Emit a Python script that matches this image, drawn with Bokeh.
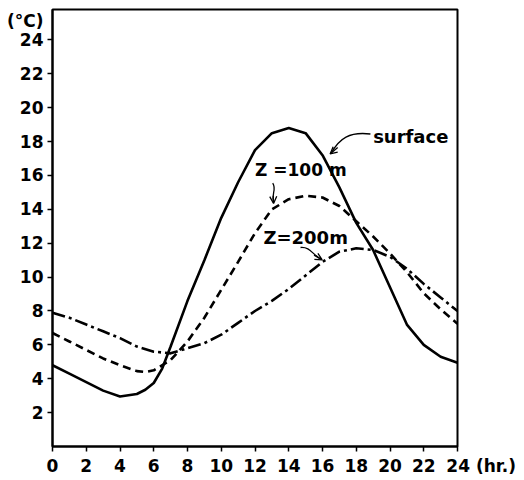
from bokeh.plotting import figure
from bokeh.models import Range1d, FixedTicker, Label, Arrow, OpenHead
from bokeh.embed import file_html
from bokeh.resources import INLINE

# hours of day
hours_surface = [0, 1, 2, 3, 4, 5, 5.5, 6, 6.5, 7, 8, 9, 10, 11, 12, 13, 14,
                 15, 16, 17, 18, 19, 20, 21, 22, 23, 24]
temp_surface = [4.8, 4.3, 3.8, 3.3, 2.95, 3.1, 3.35, 3.75, 4.6, 5.9, 8.6, 11.0,
                13.5, 15.6, 17.5, 18.5, 18.8, 18.5, 17.2, 15.3, 13.2, 11.6,
                9.4, 7.2, 6.0, 5.3, 4.95]

hours_100 = [0, 1, 2, 3, 4, 5, 5.5, 6, 7, 8, 9, 10, 11, 12, 13, 14, 15, 16,
             17, 18, 19, 20, 21, 22, 23, 24]
temp_100 = [6.7, 6.2, 5.7, 5.2, 4.8, 4.45, 4.4, 4.5, 5.1, 6.2, 7.6, 9.25,
            10.9, 12.6, 14.0, 14.6, 14.8, 14.7, 14.2, 13.3, 12.4, 11.4, 10.3,
            9.05, 8.1, 7.25]

hours_200 = [0, 1, 2, 3, 4, 5, 6, 7, 8, 9, 10, 11, 12, 13, 14, 15, 16, 17,
             18, 19, 20, 21, 22, 23, 24]
temp_200 = [7.9, 7.6, 7.2, 6.8, 6.4, 5.9, 5.6, 5.5, 5.8, 6.1, 6.6, 7.3, 8.0,
            8.6, 9.3, 10.1, 10.9, 11.5, 11.7, 11.6, 11.2, 10.5, 9.6, 8.8, 8.0]

x_ticks = list(range(0, 25, 2))
y_ticks = list(range(2, 25, 2))
y_unit_pos = 25.1
y_unit = "(°C)"
x_unit = "(hr.)"

FONT = "DejaVu Sans"
W, H = 520, 478

p = figure(width=W, height=H, output_backend="svg", toolbar_location=None,
           x_range=Range1d(0, 24), y_range=Range1d(0, 25.8),
           min_border_left=52, min_border_right=63, min_border_top=9,
           min_border_bottom=31)
p.grid.visible = False
p.outline_line_color = "black"
p.outline_line_width = 2
p.background_fill_color = "white"
p.border_fill_color = "white"

for ax in (p.xaxis[0], p.yaxis[0]):
    ax.axis_line_width = 2
    ax.axis_line_color = "black"
    ax.major_tick_in = 0
    ax.major_tick_out = 5
    ax.major_tick_line_width = 1.5
    ax.minor_tick_line_color = None
    ax.major_label_text_font = FONT
    ax.major_label_text_font_size = "17px"
    ax.major_label_text_font_style = "bold"
    ax.major_label_text_color = "black"

p.xaxis.ticker = FixedTicker(ticks=x_ticks)
p.xaxis.major_label_standoff = 4
# unit after the last hour label; figure spaces keep "24" centred on its tick
p.xaxis.major_label_overrides = {24: "\u2007\u2007\u2007\u200724 " + x_unit}

# y axis: labels (incl. the unit) sit on major ticks whose marks are hidden;
# the visible tick marks are drawn as minor ticks at the labelled values
yax = p.yaxis[0]
yax.ticker = FixedTicker(ticks=y_ticks + [y_unit_pos], minor_ticks=y_ticks)
yax.major_label_overrides = {y_unit_pos: y_unit}
yax.major_tick_line_color = None
yax.minor_tick_line_color = "black"
yax.minor_tick_line_width = 1.5
yax.minor_tick_in = 0
yax.minor_tick_out = 5
yax.major_label_standoff = 4

p.line(hours_surface, temp_surface, line_color="black", line_width=2.6)
p.line(hours_100, temp_100, line_color="black", line_width=2.6,
       line_dash="8 5")
p.line(hours_200, temp_200, line_color="black", line_width=2.6,
       line_dash="13 4 3 4")

# annotations
def lab(x, y, t, size="18px"):
    p.add_layout(Label(x=x, y=y, text=t, text_font=FONT, text_font_size=size,
                       text_color="black", text_font_style="bold",
                       text_baseline="middle"))

lab(19.0, 18.3, "surface")
lab(12.0, 16.3, "Z =100 m", "17px")
lab(12.5, 12.35, "Z=200m")

# curvy leader lines
p.bezier(x0=[18.84, 13.05, 14.7], y0=[18.45, 15.55, 11.75],
         x1=[16.5, 13.1, 15.95], y1=[17.3, 14.4, 11.05],
         cx0=[17.6, 13.3, 15.3], cy0=[18.6, 15.2, 11.8],
         cx1=[17.0, 12.95, 15.4], cy1=[18.2, 14.9, 11.3],
         line_color="black", line_width=1.3)
for (xs, ys, xe, ye) in [(16.9, 17.65, 16.45, 17.27),
                         (13.08, 14.8, 13.1, 14.35),
                         (15.5, 11.3, 15.98, 11.02)]:
    p.add_layout(Arrow(x_start=xs, y_start=ys, x_end=xe, y_end=ye,
                       line_color="black", line_width=1.3,
                       end=OpenHead(size=7, line_width=1.3, line_color="black")))

open("out.html", "w").write(file_html(p, INLINE))
